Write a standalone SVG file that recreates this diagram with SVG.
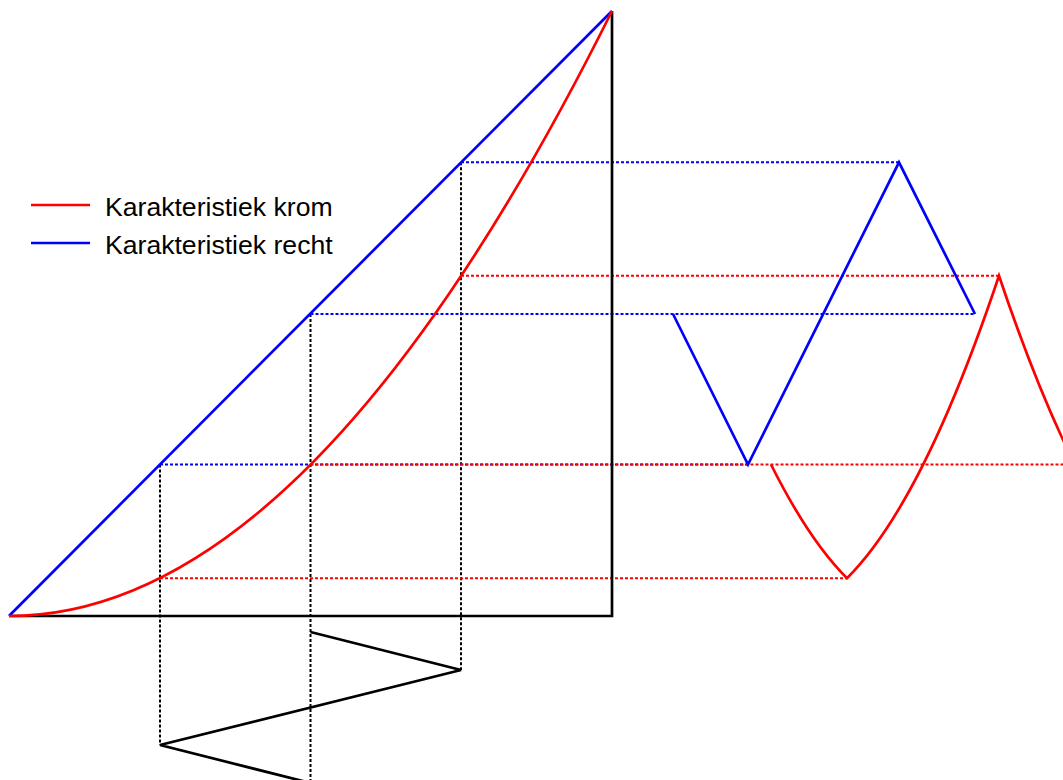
<svg xmlns="http://www.w3.org/2000/svg" width="1063" height="780" viewBox="0 0 1063 780">
<style>
.s{fill:none;stroke-width:2.7;stroke-linejoin:miter}
.d{fill:none;stroke-width:2;stroke-dasharray:3,2}
.k{stroke:#000}
.r{stroke:#ff0000}
.b{stroke:#0000ff}
text{font-family:"Liberation Sans",Arial,sans-serif;font-size:26.6px;fill:#000}
</style>
<rect width="1063" height="780" fill="#fff"/>
<g id="connectors">
<path class="d k" d="M160,464.5V745M310.5,314V782M461,162.3V670"/>
<path class="d b" d="M461,162.3H899M310.5,314H975M160,464.5H748"/>
<path class="d r" d="M461,275.7H999M310.5,464.5H1063M160,578.2H847"/>
</g>
<g id="axes">
<path class="s k" d="M9,616H612V11"/>
</g>
<g id="char-recht">
<path class="s b" d="M9,616L612,11"/>
</g>
<g id="char-krom">
<path class="s r" d="M9,616Q310.5,616 612,11"/>
</g>
<g id="input-wave">
<path class="s k" d="M310.5,632L461,670L160,745L310.5,783"/>
</g>
<g id="output-recht">
<path class="s b" d="M673,314L748,464.5L899,162.3L975,314"/>
</g>
<g id="output-krom">
<path class="s r" d="M771,464.5Q809,540.4 847,578.2Q923,502.6 999,275.7Q1037,389.1 1075,464.75"/>
</g>
<g id="legend">
<line class="s r" x1="31" y1="205" x2="90" y2="205"/>
<text x="105" y="216">Karakteristiek krom</text>
<line class="s b" x1="31" y1="243" x2="90" y2="243"/>
<text x="105" y="254">Karakteristiek recht</text>
</g>
</svg>
